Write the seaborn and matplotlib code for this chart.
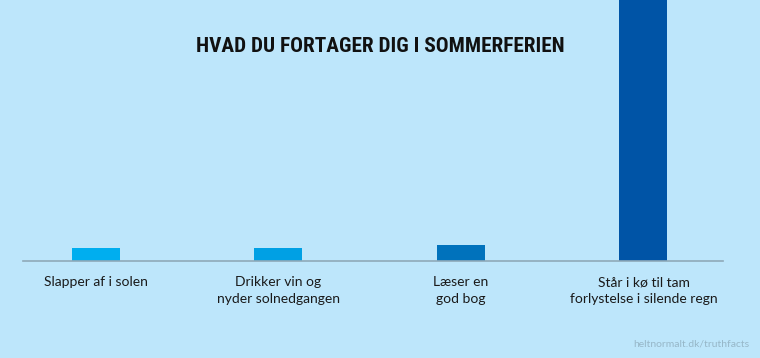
import seaborn as sns
import matplotlib.pyplot as plt
import pandas as pd
from matplotlib import font_manager

categories = ["Slapper af i solen", "Drikker vin og\nnyder solnedgangen",
              "Læser en\ngod bog", "Står i kø til tam\nforlystelse i silende regn"]
values = [13, 13, 16, 300]
colors = ["#00aeef", "#00a0e4", "#0072bc", "#0054a6"]

bg = "#bde6fb"
df = pd.DataFrame({"aktivitet": categories, "vaerdi": values})

sns.set_style("white")
plt.rcParams['font.family'] = ['Lato', 'DejaVu Sans']

fig = plt.figure(figsize=(7.6, 3.58), dpi=100, facecolor=bg)
ax = fig.add_axes([23 / 760, 97 / 358, 700 / 760, 261 / 358])
ax.set_facecolor(bg)

sns.barplot(data=df, x="aktivitet", y="vaerdi", hue="aktivitet", palette=colors,
            width=0.263, legend=False, ax=ax, saturation=1, linewidth=0)

ax.set_xlim(-0.4, 3.436)
ax.set_ylim(0, 261)
ax.set_xlabel("")
ax.set_ylabel("")
ax.set_yticks([])
for s in ["top", "left", "right"]:
    ax.spines[s].set_visible(False)
ax.spines["bottom"].set_color("#8fa9b8")
ax.spines["bottom"].set_linewidth(1.2)
ax.tick_params(axis="x", length=0, pad=11, labelsize=10, colors="#1a1a1a")
for lbl in ax.get_xticklabels():
    lbl.set_linespacing(1.5)

# condensed face for the title if one is installed
names = {f.name for f in font_manager.fontManager.ttflist}
cond = [n for n in ["Roboto Condensed", "Liberation Sans Narrow", "DejaVu Sans Condensed"]
        if n in names]
title_fam = cond[:1] + ['Roboto', 'DejaVu Sans']
fig.text(380 / 760, 1 - 46 / 358, "HVAD DU FORTAGER DIG I SOMMERFERIEN",
         ha="center", va="center", fontsize=15.3, fontweight="bold", fontstretch="condensed",
         family=title_fam, color="#111111")
fig.text(749 / 760, 1 - 344 / 358, "heltnormalt.dk/truthfacts", ha="right", va="center",
         fontsize=7.5, color="#97b7c8")

fig.savefig("out.png", dpi=100, facecolor=bg)
